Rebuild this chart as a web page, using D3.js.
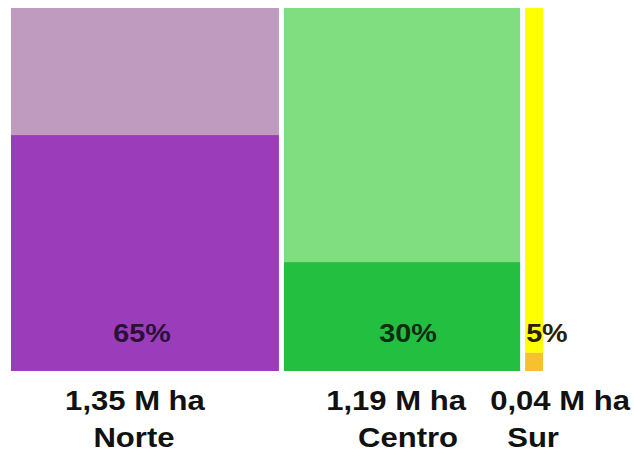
<!DOCTYPE html>
<html>
<head>
<meta charset="utf-8">
<script src="https://cdn.jsdelivr.net/npm/d3@7"></script>
<style>
  body { margin: 0; background: #fff; }
  text { font-family: "Liberation Sans", Arial, sans-serif; font-weight: bold; }
</style>
</head>
<body>
<div id="chart-area"></div>
<script>
// data
var regions = ["Norte", "Centro", "Sur"];
var areaMha = [1.35, 1.19, 0.04];
var areaLabels = ["1,35 M ha", "1,19 M ha", "0,04 M ha"];
var sharePct = [65, 30, 5];
var pctLabels = ["65%", "30%", "5%"];

// styles
var darkColors = ["#9b3dbb", "#22bf40", "#f8c030"];
var lightColors = ["#bf9cbf", "#80dd80", "#ffff00"];
var pctColors = ["#2b1037", "#0f2b12", "#2a2000"];

var W = 634, H = 450;
var margin = { left: 11, right: 91, top: 8, bottom: 79 };
var width = W - margin.left - margin.right,
    height = H - margin.top - margin.bottom;
var gap = 5;
var minShare = 0.09; // smallest column still gets a visible width

var svg = d3.select("#chart-area").append("svg")
    .attr("width", W)
    .attr("height", H);

var g = svg.append("g")
    .attr("transform", "translate(" + margin.left + "," + margin.top + ")");

var shown = areaMha.map(function(v) { return Math.max(v, minShare); });
var x = d3.scaleLinear()
    .domain([0, d3.sum(shown)])
    .range([0, width - gap * (regions.length - 1)]);

var y = d3.scaleLinear()
    .domain([0, 100])
    .range([height, 0]);

var cols = [];
var acc = 0;
regions.forEach(function(r, i) {
    cols.push({
        region: r, i: i,
        x0: x(acc) + gap * i,
        w: x(shown[i]),
        pct: sharePct[i]
    });
    acc += shown[i];
});

var col = g.selectAll(".col")
    .data(cols)
    .enter().append("g")
    .attr("class", "col");

// upper (rest) part
col.append("rect")
    .attr("x", function(d) { return d.x0; })
    .attr("y", y(100))
    .attr("width", function(d) { return d.w; })
    .attr("height", function(d) { return y(d.pct) - y(100); })
    .attr("fill", function(d) { return lightColors[d.i]; });

// share part
col.append("rect")
    .attr("x", function(d) { return d.x0; })
    .attr("y", function(d) { return y(d.pct); })
    .attr("width", function(d) { return d.w; })
    .attr("height", function(d) { return y(0) - y(d.pct); })
    .attr("fill", function(d) { return darkColors[d.i]; });

var sx = 1.15; // labels are a bit wide in the original

// percent labels
var pctDx = [-3, 6, 0];
col.append("text")
    .attr("transform", function(d) {
        var cx = d.w > 40 ? d.x0 + d.w / 2 + pctDx[d.i] : d.x0 + 1;
        return "translate(" + cx + "," + (y(0) - 29) + ") scale(" + sx + ",1)";
    })
    .attr("text-anchor", function(d) { return d.w > 40 ? "middle" : "start"; })
    .attr("font-size", "25px")
    .attr("fill", function(d) { return pctColors[d.i]; })
    .text(function(d) { return pctLabels[d.i]; });

// area + region labels below
var labelDx = [-10, -6, 26];
var nameDx = [-11, 6, -1];
col.append("text")
    .attr("transform", function(d) {
        return "translate(" + (d.x0 + d.w / 2 + labelDx[d.i]) + "," + (y(0) + 39) + ") scale(" + sx + ",1)";
    })
    .attr("text-anchor", "middle")
    .attr("font-size", "27px")
    .attr("fill", "#111")
    .text(function(d) { return areaLabels[d.i]; });

col.append("text")
    .attr("transform", function(d) {
        return "translate(" + (d.x0 + d.w / 2 + nameDx[d.i]) + "," + (y(0) + 76) + ") scale(" + sx + ",1)";
    })
    .attr("text-anchor", "middle")
    .attr("font-size", "27px")
    .attr("fill", "#111")
    .text(function(d) { return d.region; });
</script>
</body>
</html>
